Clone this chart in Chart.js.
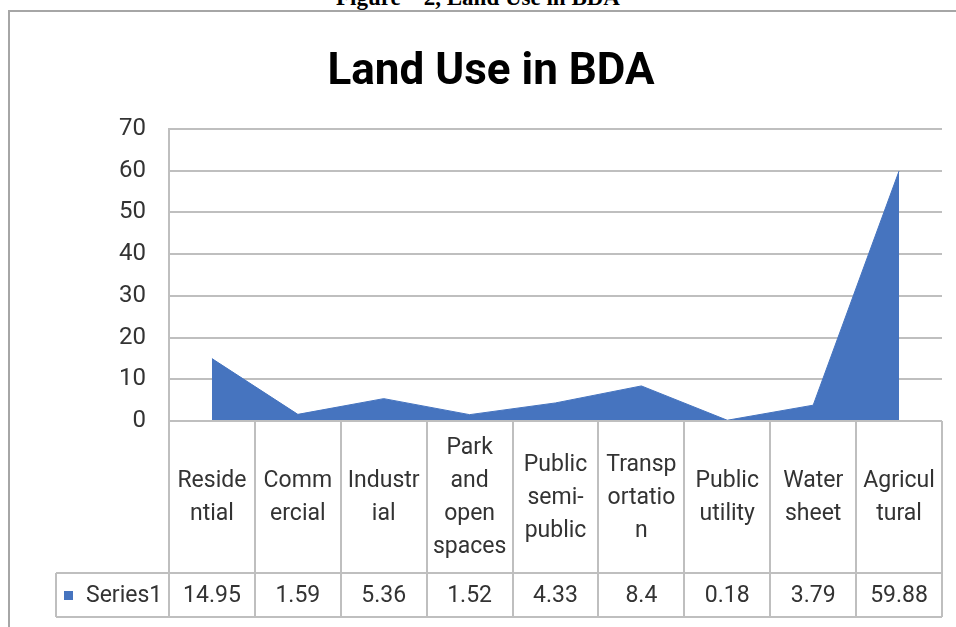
<!DOCTYPE html>
<html>
<head>
<meta charset="utf-8">
<script src="https://cdn.jsdelivr.net/npm/chart.js@4/dist/chart.umd.min.js"></script>
<style>
  html, body { margin: 0; padding: 0; background: #fff; }
  body { width: 956px; height: 627px; position: relative; overflow: hidden; }
  #caption {
    position: absolute; left: 0; width: 956px; top: -15px;
    text-align: center; font: bold 23px "Liberation Serif", serif; color: #000;
  }
  #frame {
    position: absolute; left: 8px; top: 10px; width: 1000px; height: 700px;
    border: 2px solid #a6a6a6; border-right: none; border-bottom: none;
  }
  #wrap { position: absolute; left: 0; top: 0; width: 956px; height: 627px; }
</style>
</head>
<body>
<div id="caption">Figure – 2, Land Use in BDA</div>
<div id="frame"></div>
<div id="wrap"><canvas id="landUseChart"></canvas></div>
<script>
const categories = ['Residential', 'Commercial', 'Industrial', 'Park and open spaces', 'Public semi-public',
    'Transportation', 'Public utility', 'Water sheet', 'Agricultural'];
// header text as it wraps in the data table cells
const headerLines = [
    ['Reside', 'ntial'], ['Comm', 'ercial'], ['Industr', 'ial'], ['Park', 'and', 'open', 'spaces'],
    ['Public', 'semi-', 'public'], ['Transp', 'ortatio', 'n'], ['Public', 'utility'], ['Water', 'sheet'], ['Agricul', 'tural']
];
const series1 = [14.95, 1.59, 5.36, 1.52, 4.33, 8.4, 0.18, 3.79, 59.88];
const valueLabels = ['14.95', '1.59', '5.36', '1.52', '4.33', '8.4', '0.18', '3.79', '59.88'];
const seriesName = 'Series1';
const yTicks = [0, 10, 20, 30, 40, 50, 60, 70];

const areaColor = '#4674BF';
const lineColor = '#bfbfbf';
const textColor = '#333333';
const fontFamily = 'Roboto, "Liberation Sans", sans-serif';
const cellFont = '23px ' + fontFamily;

const dataTablePlugin = {
    id: 'dataTable',
    afterDraw(chart) {
        const ctx = chart.ctx;
        const area = chart.chartArea;
        const x = chart.scales.x;
        const half = (x.getPixelForValue(1) - x.getPixelForValue(0)) / 2;
        const top = area.bottom;
        const headBottom = top + 152;
        const bottom = headBottom + 44;
        const legendLeft = 56;

        ctx.save();
        ctx.strokeStyle = lineColor;
        ctx.lineWidth = 2;

        // vertical cell borders
        for (let i = 0; i <= categories.length; i++) {
            const px = Math.round(x.getPixelForValue(i) - half);
            ctx.beginPath();
            ctx.moveTo(px, top);
            ctx.lineTo(px, bottom);
            ctx.stroke();
        }
        ctx.beginPath();
        ctx.moveTo(legendLeft, headBottom);
        ctx.lineTo(legendLeft, bottom);
        ctx.stroke();

        // horizontal borders
        const left = x.getPixelForValue(0) - half;
        const right = x.getPixelForValue(categories.length - 1) + half;
        [[left, top], [legendLeft, headBottom], [legendLeft, bottom]].forEach(([x0, y]) => {
            ctx.beginPath();
            ctx.moveTo(x0, y);
            ctx.lineTo(right, y);
            ctx.stroke();
        });

        ctx.fillStyle = textColor;
        ctx.font = cellFont;
        ctx.textAlign = 'center';
        ctx.textBaseline = 'middle';
        const lineH = 33;
        const headMid = (top + headBottom) / 2 + 1;
        headerLines.forEach((lines, i) => {
            const cx = x.getPixelForValue(i);
            const y0 = headMid - (lines.length - 1) * lineH / 2;
            lines.forEach((t, j) => ctx.fillText(t, cx, y0 + j * lineH));
        });

        const rowMid = (headBottom + bottom) / 2 + 1;
        valueLabels.forEach((t, i) => ctx.fillText(t, x.getPixelForValue(i), rowMid));

        // legend key
        ctx.fillStyle = areaColor;
        ctx.fillRect(legendLeft + 8, rowMid - 5, 9, 9);
        ctx.fillStyle = textColor;
        ctx.textAlign = 'left';
        ctx.fillText(seriesName, legendLeft + 30, rowMid);
        ctx.restore();
    }
};

new Chart(document.getElementById('landUseChart'), {
    type: 'line',
    data: {
        labels: categories,
        datasets: [{
            label: seriesName,
            data: series1,
            backgroundColor: areaColor,
            borderColor: areaColor,
            borderWidth: 1,
            fill: 'origin',
            tension: 0,
            pointRadius: 0
        }]
    },
    options: {
        responsive: true,
        maintainAspectRatio: false,
        animation: false,
        events: [],
        layout: { padding: { left: 40, right: 14, top: 0, bottom: 206 } },
        scales: {
            x: {
                offset: true,
                grid: { display: false, drawTicks: false },
                border: { display: false },
                ticks: { display: false }
            },
            y: {
                min: 0,
                max: 70,
                afterFit: s => { s.width = 129; },
                afterBuildTicks: s => { s.ticks = yTicks.map(v => ({ value: v })); },
                grid: { color: lineColor, lineWidth: 2, drawTicks: false },
                border: { display: true, color: lineColor, width: 2 },
                ticks: {
                    padding: 23,
                    color: textColor,
                    font: { family: fontFamily, size: 24 }
                }
            }
        },
        plugins: {
            legend: { display: false },
            tooltip: { enabled: false },
            title: {
                display: true,
                text: 'Land Use in BDA',
                color: '#000',
                font: { family: fontFamily, size: 44, weight: 'bold', lineHeight: 1.2 },
                padding: { top: 47, bottom: 29 }
            }
        }
    },
    plugins: [dataTablePlugin]
});
</script>
</body>
</html>
